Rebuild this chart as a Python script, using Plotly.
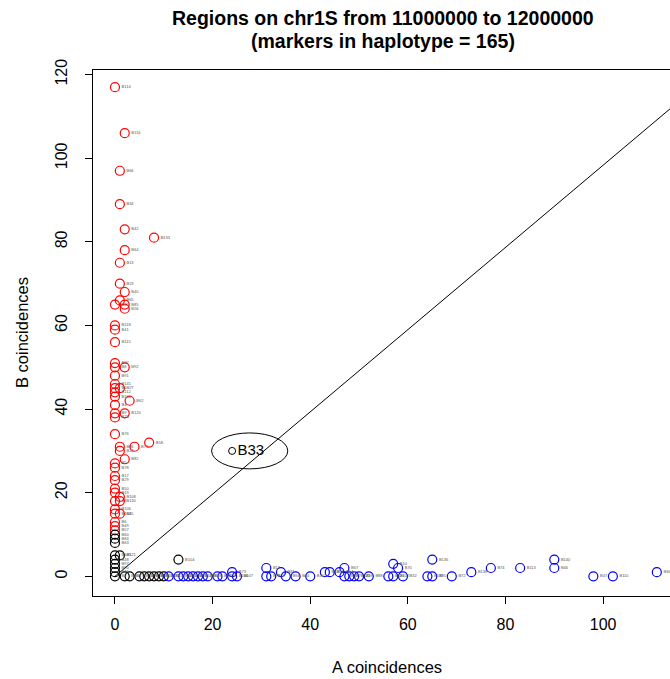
import plotly.graph_objects as go

# ---------------- data ----------------
red_names = ["B114","B116","B66","B34","B42","B133","B64","B13","B23","B40","B65","B35","B85","B26",
             "B118","B41","B115","B37","B8","B92","B91","B141","B1","B27","B112","B100","B62","B4",
             "B9","B120","B25","B76","B58","B71","B86","B14","B82","B5","B78","B17","B29","B50",
             "B19","B108","B3","B130","B106","B103","B45","B6","B49","B57"]
red_a = [0,2,1,1,2,8,2,1,1,2,1,0,2,2,
         0,0,0,0,0,2,0,0,0,1,0,0,3,0,
         0,2,0,0,7,4,1,1,2,0,0,0,0,0,
         0,1,0,1,0,0,1,0,0,0]
red_b = [117,106,97,89,83,81,78,75,70,68,66,65,65,64,
         60,59,56,51,50,50,48,46,45,45,44,43,42,41,
         39,39,38,34,32,31,31,30,28,27,26,24,23,21,
         20,19,18,18,16,15,15,13,12,11]

black_names = ["B60","B84","B63","B105","B121","B48","B97","B90","B31","B2","B104",
               "B20","B77","B55","B99","B38","B68","B11","B135"]
black_a = [0,0,0,0,1,0,0,0,0,0,13, 2,3,5,6,7,8,9,10]
black_b = [10,9,8,5,5,4,3,2,1,0,4, 0,0,0,0,0,0,0,0]

blue_names = ["B15","B52","B61","B80","B93","B125","B18","B28","B39","B53","B106","B107","B73",
              "B12","B79","B69","B81","B94","B44","B101","B137","B16","B54","B67","B89","B7",
              "B123","B59","B88","B126","B102","B10","B70","B32","B131","B136","B95","B72","B138",
              "B74","B113","B140","B46","B47","B110","B36"]
blue_a = [11,13,14,15,16,17,18,19,21,22,24,25,24,
          31,31,32,34,35,37,40,43,44,46,47,47,48,
          49,50,52,56,57,57,58,59,64,65,65,69,73,
          77,83,90,90,98,102,111]
blue_b = [0,0,0,0,0,0,0,0,0,0,0,0,1,
          2,0,0,1,0,0,0,1,1,1,2,0,0,
          0,0,0,0,0,3,2,0,0,4,0,0,1,
          2,2,4,2,0,0,1]

highlight_name = ["B33"]
highlight_a = [24]
highlight_b = [30]

title_line1 = "Regions on chr1S from 11000000 to 12000000"
title_line2 = "(markers in haplotype = 165)"
x_title = "A coincidences"
y_title = "B coincidences"
x_ticks = [0, 20, 40, 60, 80, 100]
y_ticks = [0, 20, 40, 60, 80, 100, 120]
diag_a = [0, 120]
diag_b = [0, 118]

# ---------------- figure ----------------
W, H = 670, 679
L, T, R = 93, 70, 0
B = H - 596
PW, PH = W - L - R, H - T - B
FONT = "Liberation Sans, Arial, Helvetica, sans-serif"


def px(x):
    return (x - L) / PW


def py(y):
    return (H - B - y) / PH


fig = go.Figure()

fig.add_trace(go.Scatter(x=diag_a, y=diag_b, mode="lines",
                         line=dict(color="black", width=1), hoverinfo="skip", showlegend=False))

label_font = dict(family=FONT, size=4, color="#555555")
for names, xs, ys, col in [(red_names, red_a, red_b, "red"),
                           (black_names, black_a, black_b, "black"),
                           (blue_names, blue_a, blue_b, "blue")]:
    fig.add_trace(go.Scatter(
        x=xs, y=ys, text=names, mode="markers+text", textposition="middle right",
        textfont=label_font,
        marker=dict(symbol="circle-open", size=9, color=col, line=dict(width=1.2, color=col)),
        showlegend=False, cliponaxis=False))

fig.add_trace(go.Scatter(
    x=highlight_a, y=highlight_b, text=highlight_name, mode="markers+text",
    textposition="middle right", textfont=dict(family=FONT, size=15, color="black"),
    marker=dict(symbol="circle-open", size=7, color="black", line=dict(width=1, color="black")),
    showlegend=False))

# ellipse around highlighted marker
cx, cy = highlight_a[0] + 3.6, highlight_b[0]
rx, ry = 7.8, 4.3
fig.add_shape(type="circle", xref="x", yref="y", x0=cx - rx, x1=cx + rx, y0=cy - ry, y1=cy + ry,
              line=dict(color="black", width=1))

fig.update_layout(
    width=W, height=H, margin=dict(l=L, r=R, t=T, b=B, autoexpand=False),
    paper_bgcolor="white", plot_bgcolor="white",
    font=dict(family=FONT, size=16, color="black"),
    xaxis=dict(range=[-4.5, 113.7], tickvals=x_ticks, showgrid=False, zeroline=False,
               showline=True, mirror=True, linecolor="black", linewidth=1,
               ticks="outside", ticklen=7, tickwidth=1, tickcolor="black",
               tickfont=dict(size=16), ticklabelstandoff=7),
    yaxis=dict(range=[-4.7, 121.1], tickvals=y_ticks, showgrid=False, zeroline=False,
               showline=True, mirror=False, linecolor="black", linewidth=1,
               ticks="outside", ticklen=7, tickwidth=1, tickcolor="black",
               tickangle=-90, tickfont=dict(size=16), ticklabelstandoff=12),
    annotations=[
        dict(text="<b>" + title_line1 + "</b>", xref="paper", yref="paper", x=px(383), y=py(18),
             showarrow=False, xanchor="center", yanchor="middle", font=dict(size=19.5)),
        dict(text="<b>" + title_line2 + "</b>", xref="paper", yref="paper", x=px(383), y=py(41),
             showarrow=False, xanchor="center", yanchor="middle", font=dict(size=19.5)),
        dict(text=x_title, xref="paper", yref="paper", x=px(387), y=py(667),
             showarrow=False, xanchor="center", yanchor="middle", font=dict(size=16.5)),
        dict(text=y_title, xref="paper", yref="paper", x=px(22), y=py(333), textangle=-90,
             showarrow=False, xanchor="center", yanchor="middle", font=dict(size=16.5)),
    ],
)

fig.write_html("out.html", config={"displayModeBar": False},
               post_script="document.body.style.margin='0';document.body.style.overflow='hidden';")
